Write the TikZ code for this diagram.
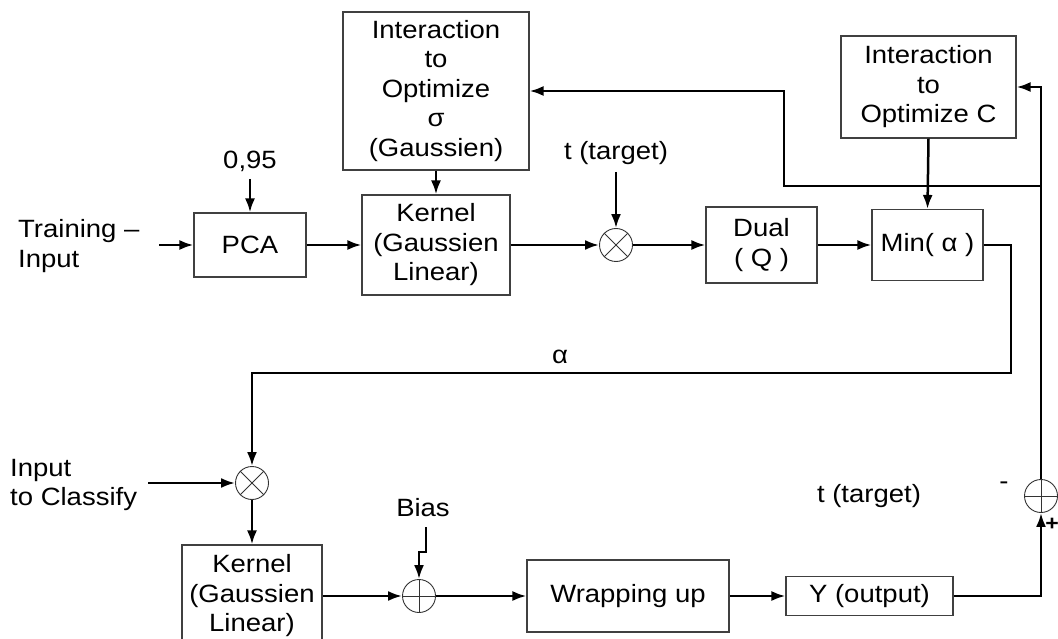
\documentclass[tikz,border=0pt]{standalone}
\usepackage{fontspec}
\setmainfont{Liberation Sans}[FakeStretch=1.1]
\usetikzlibrary{arrows.meta}
\begin{document}
\begin{tikzpicture}[x=1pt,y=-1pt,
  every node/.style={font=\fontsize{25}{29.5}\selectfont},
  blk/.style={draw=black!75,line width=1.1pt,inner sep=0pt,align=center},
  junc/.style={draw=black!80,line width=0.9pt,circle,minimum size=33pt,inner sep=0pt},
  lbl/.style={inner sep=0pt,align=center},
  wire/.style={line width=2.5pt},
  arr/.style={wire,-{Latex[length=14pt,width=10pt]}}]
\clip (0,0) rectangle (1058,639);
\useasboundingbox (0,0) rectangle (1058,639);

% upper chain: training path
\node[blk,minimum width=186pt,minimum height=158pt] (IS) at (436,91)
  {Interaction\\to\\Optimize\\σ\\(Gaussien)};
\node[blk,minimum width=112pt,minimum height=64pt] (PCA) at (250,245) {PCA};
\node[blk,minimum width=148pt,minimum height=100pt] (K1) at (436,245)
  {Kernel\\(Gaussien\\Linear)};
\node[junc] (X1) at (616,245) {};
\node[blk,minimum width=111pt,minimum height=76pt] (D) at (761.5,245) {Dual\\( Q )};
\node[blk,minimum width=111pt,minimum height=71pt] (M) at (927.5,245) {Min( α )};
\node[blk,minimum width=175pt,minimum height=102pt] (IC) at (928.5,87)
  {Interaction\\to\\Optimize C};

% lower chain: classification path
\node[junc] (X2) at (252,483) {};
\node[blk,minimum width=140pt,minimum height=102pt] (K2) at (252,596)
  {Kernel\\(Gaussien\\Linear)};
\node[junc] (P) at (419,596) {};
\node[blk,minimum width=202pt,minimum height=72pt] (W) at (628,596) {Wrapping up};
\node[blk,minimum width=167pt,minimum height=39pt] (Y) at (869.5,596) {Y (output)};
\node[junc] (S) at (1041,496) {};

% junction symbols
\draw[line width=0.9pt,black!80] (X1.north east) -- (X1.south west) (X1.north west) -- (X1.south east);
\draw[line width=0.9pt,black!80] (X2.north east) -- (X2.south west) (X2.north west) -- (X2.south east);
\draw[line width=0.9pt,black!80] (P.north) -- (P.south) (P.west) -- (P.east);
\draw[line width=0.9pt,black!80] (S.north) -- (S.south) (S.west) -- (S.east);

% labels
\node[lbl,anchor=west,align=left] (tin) at (18,246) {Training –\\Input};
\node[lbl] (thr) at (250,161) {0,95};
\node[lbl] (tt1) at (616,153) {t (target)};
\node[lbl] (al) at (560,357) {α};
\node[lbl,anchor=west,align=left] (cin) at (10,485) {Input\\to Classify};
\node[lbl] (bias) at (423,508) {Bias};
\node[lbl] (tt2) at (869,496) {t (target)};
\node[lbl] (mn) at (1004,486) {-};
\node[lbl,font=\fontsize{21}{24}\selectfont\bfseries] (pl) at (1052,524) {+};

% free ends and bends
\coordinate (trs) at (159,245);
\coordinate (ths) at (250,179);
\coordinate (tts) at (616,172);
\coordinate (cis) at (148,483);
\coordinate (bs) at (426,527);
\coordinate (jr) at (1041,186);
\coordinate (jl) at (784,186);
\coordinate (mr) at (1011,245);
\coordinate (ab) at (1011,373);

% connectors, training path
\draw[arr] (trs) -- (PCA.west);
\draw[arr] (ths) -- (PCA.north);
\draw[arr] (PCA.east) -- (K1.west);
\draw[arr] (IS.south) -- (K1.north);
\draw[arr] (K1.east) -- (X1.west);
\draw[arr] (tts) -- (X1.north);
\draw[arr] (X1.east) -- (D.west);
\draw[arr] (D.east) -- (M.west);
\draw[arr] (IC.south) -- (M.north);

% feedback loops
\draw[arr] (S.north) |- (IC.east);
\draw[arr] (jr) -- (jl) |- (IS.east);

% alpha hand-over to classifier
\draw[arr] (M.east) -- (mr) -- (ab) -| (X2.north);

% connectors, classification path
\draw[arr] (cis) -- (X2.west);
\draw[arr] (X2.south) -- (K2.north);
\draw[arr] (K2.east) -- (P.west);
\draw[arr] (bs) -- (426,552) -- (419,552) -- (P.north);
\draw[arr] (P.east) -- (W.west);
\draw[arr] (W.east) -- (Y.west);
\draw[arr] (Y.east) -| (S.south);
\end{tikzpicture}
\end{document}
